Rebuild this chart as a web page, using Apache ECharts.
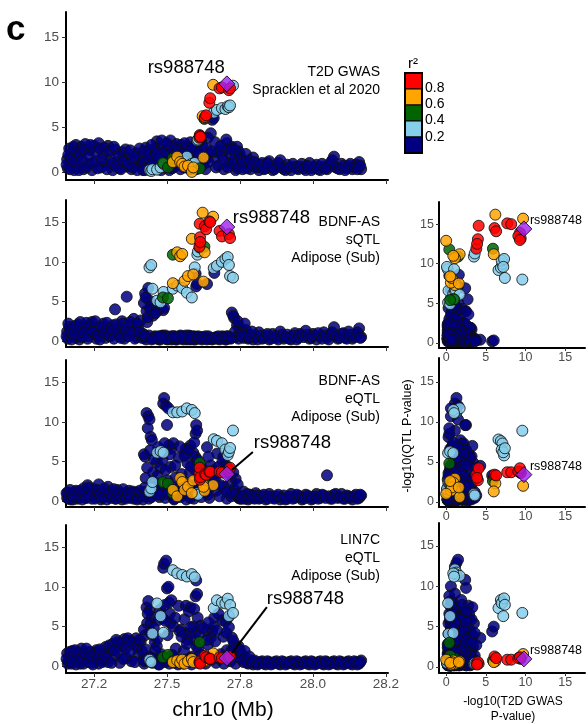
<!DOCTYPE html>
<html>
<head>
<meta charset="utf-8">
<script src="https://cdn.jsdelivr.net/npm/echarts@6/dist/echarts.min.js"></script>
<style>
  html, body { margin: 0; padding: 0; background: #fff; }
  #chart { width: 588px; height: 724px; }
</style>
</head>
<body>
<div id="chart"></div>
<script>
// one row per SNP: [position (Mb), r2 class, T2D GWAS, BDNF-AS sQTL, BDNF-AS eQTL, LIN7C eQTL]
// r2 class: 0 <0.2, 1 0.2-0.4, 2 0.4-0.6, 3 0.6-0.8, 4 >0.8 (all values are -log10 P)
const leftFlank = [
  [27.158, 0, 1.4, 1.2, 0.4, 1.6], [27.160, 0, 0.4, 0.3, 1.1, 0.3], [27.165, 0, 2.6, 1.8, 0.6, 1.1],
  [27.170, 0, 0.9, 0.6, 0.2, 0.5], [27.176, 0, 2.2, 1.5, 0.8, 1.9], [27.182, 0, 0.2, 1.0, 0.5, 0.9],
  [27.188, 0, 3.0, 0.4, 1.3, 0.2], [27.195, 0, 1.6, 2.1, 0.3, 1.4], [27.200, 0, 0.5, 0.2, 1.0, 0.6],
  [27.207, 0, 2.8, 1.3, 0.6, 2.2], [27.214, 0, 0.3, 0.7, 1.6, 0.3], [27.220, 0, 3.1, 1.9, 0.4, 1.2],
  [27.228, 0, 0.9, 0.3, 2.0, 0.7], [27.235, 0, 2.4, 1.6, 0.9, 1.8], [27.243, 0, 0.2, 2.4, 0.3, 0.4],
  [27.250, 0, 2.9, 0.9, 1.5, 1.1], [27.258, 0, 1.2, 0.3, 0.6, 2.0], [27.266, 0, 3.2, 1.7, 2.1, 0.3],
  [27.274, 0, 0.5, 1.1, 0.2, 1.5], [27.282, 0, 2.0, 2.2, 1.2, 0.8], [27.290, 0, 0.8, 0.4, 0.7, 2.4],
  [27.298, 0, 2.9, 1.4, 1.8, 0.5], [27.306, 0, 1.5, 0.6, 0.4, 1.9], [27.314, 0, 0.2, 2.0, 1.1, 2.8],
  [27.322, 0, 2.5, 4.0, 0.3, 1.3], [27.330, 0, 1.1, 0.8, 1.4, 3.0], [27.338, 0, 0.4, 1.6, 0.6, 0.4],
  [27.346, 0, 2.2, 2.5, 0.2, 2.5], [27.354, 0, 1.7, 0.3, 1.0, 3.4], [27.362, 0, 0.6, 5.6, 0.5, 1.0],
  [27.370, 0, 1.9, 1.2, 1.3, 3.2], [27.378, 0, 0.3, 2.0, 0.7, 0.6], [27.386, 0, 1.3, 2.8, 0.3, 2.7],
  [27.394, 0, 2.1, 0.5, 1.1, 3.5], [27.402, 0, 0.7, 1.8, 0.4, 1.5], [27.410, 0, 1.6, 2.6, 0.9, 3.1],
  [27.418, 0, 0.2, 0.9, 0.2, 0.8],
  [27.156, 0, 0.8, 0.6, 1.0, 0.9], [27.162, 0, 1.9, 2.2, 0.3, 0.6], [27.168, 0, 0.3, 1.4, 1.4, 1.8],
  [27.173, 0, 1.5, 0.2, 0.7, 0.3], [27.179, 0, 2.8, 0.9, 0.2, 1.2], [27.185, 0, 1.1, 1.9, 1.1, 2.0],
  [27.191, 0, 2.3, 0.8, 0.5, 0.7], [27.198, 0, 0.2, 1.6, 0.8, 1.7], [27.203, 0, 2.0, 2.4, 1.3, 0.3],
  [27.210, 0, 1.3, 0.5, 0.2, 1.0], [27.217, 0, 2.5, 1.1, 1.0, 1.6], [27.224, 0, 0.5, 2.3, 0.4, 2.2],
  [27.231, 0, 1.8, 0.6, 1.7, 0.5], [27.238, 0, 3.0, 1.9, 0.6, 1.3], [27.246, 0, 1.0, 1.2, 1.1, 0.2],
  [27.254, 0, 2.2, 2.5, 0.3, 1.7], [27.262, 0, 0.4, 0.7, 1.4, 0.9], [27.270, 0, 2.6, 0.2, 0.8, 2.1],
  [27.278, 0, 1.4, 1.8, 0.4, 0.5], [27.286, 0, 2.7, 1.0, 1.6, 1.4], [27.294, 0, 0.3, 2.3, 0.2, 1.0],
  [27.302, 0, 2.3, 0.7, 1.1, 2.6], [27.310, 0, 1.0, 1.5, 0.6, 0.4], [27.318, 0, 2.8, 0.3, 1.5, 2.0],
  [27.326, 0, 0.6, 2.1, 0.3, 3.3], [27.334, 0, 1.8, 1.0, 1.0, 1.7], [27.342, 0, 0.3, 0.4, 0.5, 2.9],
  [27.350, 0, 1.2, 2.2, 1.5, 0.9], [27.358, 0, 2.5, 1.3, 0.3, 2.2], [27.366, 0, 0.9, 0.6, 0.9, 3.5],
  [27.374, 0, 2.4, 2.4, 0.4, 1.8], [27.382, 0, 0.5, 1.1, 1.2, 3.0], [27.390, 0, 1.7, 0.3, 0.6, 0.5],
  [27.398, 0, 0.2, 2.2, 0.2, 2.4], [27.406, 0, 2.6, 1.2, 1.3, 3.3], [27.414, 0, 1.0, 0.4, 0.7, 1.9]
];

const coreRegion = [
  [27.425, 0, 0.9, 6.0, 5.6, 3.9], [27.430, 0, 1.2, 3.8, 11.1, 7.4], [27.432, 0, 2.2, 2.4, 4.2, 5.4],
  [27.436, 0, 0.6, 6.7, 10.7, 8.2], [27.440, 0, 1.5, 5.1, 10.3, 7.0], [27.444, 0, 0.3, 4.4, 8.1, 5.4],
  [27.448, 0, 1.8, 3.7, 7.7, 6.2], [27.452, 0, 1.0, 3.2, 3.6, 3.9], [27.458, 0, 2.6, 0.6, 2.3, 3.0],
  [27.465, 0, 3.4, 0.3, 4.9, 2.5], [27.470, 0, 0.7, 3.9, 6.8, 5.8], [27.478, 0, 2.0, 4.3, 4.2, 6.4],
  [27.485, 0, 2.9, 0.7, 5.2, 6.0], [27.487, 0, 1.1, 3.9, 12.3, 12.4], [27.490, 0, 1.3, 4.2, 13.0, 12.9],
  [27.497, 0, 1.5, 0.5, 12.0, 13.3], [27.500, 0, 2.5, 0.3, 9.6, 9.8], [27.505, 0, 0.6, 0.4, 11.7, 10.0],
  [27.507, 0, 0.8, 0.3, 7.0, 8.0], [27.512, 0, 3.5, 0.5, 4.3, 5.4], [27.515, 0, 1.9, 0.6, 6.6, 8.3],
  [27.530, 0, 1.0, 0.2, 3.0, 2.2], [27.540, 0, 2.8, 0.4, 5.5, 7.6], [27.548, 0, 3.0, 0.5, 2.0, 4.6],
  [27.562, 0, 2.1, 0.3, 6.0, 4.1], [27.565, 0, 0.5, 0.7, 6.6, 7.6], [27.570, 0, 1.6, 0.4, 4.8, 3.3],
  [27.578, 0, 0.3, 0.6, 3.6, 4.1], [27.580, 0, 3.3, 0.2, 7.0, 7.4], [27.590, 0, 1.4, 0.5, 6.1, 5.0],
  [27.595, 0, 2.7, 0.4, 4.0, 3.2], [27.598, 0, 0.4, 8.5, 8.5, 8.8], [27.600, 0, 2.4, 6.9, 9.6, 10.8],
  [27.603, 0, 1.1, 7.2, 8.9, 9.1],
  [27.421, 0, 1.1, 4.8, 5.9, 4.6], [27.427, 0, 2.7, 5.5, 2.9, 2.1], [27.434, 0, 0.4, 3.0, 9.2, 6.6],
  [27.442, 0, 2.4, 4.0, 6.4, 4.2], [27.455, 0, 1.3, 0.4, 5.3, 4.8], [27.460, 0, 0.6, 3.5, 1.8, 2.0],
  [27.468, 0, 2.2, 0.5, 3.2, 3.5], [27.476, 0, 1.4, 0.2, 5.9, 7.1], [27.480, 0, 0.2, 0.6, 1.2, 1.5],
  [27.492, 0, 2.0, 0.4, 7.3, 7.7], [27.495, 0, 0.5, 0.7, 3.9, 5.7], [27.502, 0, 1.8, 0.2, 2.6, 3.9],
  [27.510, 0, 2.9, 0.5, 5.9, 6.6], [27.518, 0, 0.4, 0.3, 1.8, 1.4], [27.522, 0, 2.2, 0.6, 7.3, 5.0],
  [27.528, 0, 1.6, 0.4, 4.5, 6.1], [27.533, 0, 3.1, 0.2, 1.5, 0.8], [27.543, 0, 0.8, 0.6, 6.9, 4.4],
  [27.550, 0, 2.3, 0.3, 3.4, 3.7], [27.558, 0, 0.5, 0.5, 1.2, 1.9], [27.560, 0, 3.2, 0.4, 5.7, 5.9],
  [27.568, 0, 1.2, 0.2, 2.3, 2.8], [27.575, 0, 2.5, 0.7, 6.5, 6.9], [27.582, 0, 0.6, 0.4, 4.4, 4.9],
  [27.587, 0, 2.0, 0.3, 1.6, 1.2], [27.593, 0, 0.9, 0.6, 7.4, 7.2], [27.597, 0, 3.0, 0.2, 5.6, 4.2],
  [27.601, 0, 0.3, 0.5, 2.2, 2.5],
  [27.422, 0, 2.3, 0.4, 0.6, 0.3], [27.428, 0, 0.5, 0.2, 1.2, 0.8], [27.438, 0, 1.9, 0.7, 0.3, 1.2],
  [27.450, 0, 0.8, 0.3, 0.9, 0.4], [27.462, 0, 2.1, 0.5, 1.4, 0.7], [27.474, 0, 0.4, 0.2, 0.5, 0.2],
  [27.482, 0, 3.5, 0.6, 1.0, 1.0], [27.494, 0, 2.4, 0.3, 0.4, 0.5], [27.508, 0, 0.2, 0.5, 1.2, 0.3],
  [27.516, 0, 2.7, 0.2, 0.7, 0.9], [27.526, 0, 0.6, 0.6, 0.3, 0.4], [27.538, 0, 2.5, 0.3, 1.1, 0.2],
  [27.546, 0, 0.3, 0.7, 0.5, 0.7], [27.556, 0, 1.8, 0.2, 0.9, 0.3], [27.566, 0, 2.8, 0.5, 0.2, 0.8],
  [27.574, 0, 0.9, 0.3, 1.3, 0.5], [27.584, 0, 2.6, 0.6, 0.6, 0.2], [27.592, 0, 0.4, 0.2, 0.3, 0.9],
  [27.424, 0, 0.2, 0.7, 1.7, 0.6], [27.447, 0, 3.0, 0.2, 0.5, 1.1], [27.471, 0, 1.7, 0.6, 0.8, 0.2],
  [27.499, 0, 3.2, 0.3, 0.9, 0.7], [27.524, 0, 1.4, 0.5, 0.2, 1.2], [27.553, 0, 2.0, 0.6, 1.6, 0.4],
  [27.579, 0, 1.1, 0.3, 0.4, 1.0],
  [27.440, 1, 0.2, 9.3, 1.2, 0.8], [27.446, 1, 0.1, 9.6, 1.6, 0.5], [27.450, 1, 0.3, 6.6, 2.4, 4.1],
  [27.466, 1, 0.25, 5.1, 6.1, 7.9], [27.478, 1, 0.5, 4.9, 6.3, 6.3], [27.488, 1, 0.9, 6.2, 6.1, 4.2],
  [27.520, 1, 1.1, 6.6, 11.2, 12.1], [27.535, 1, 1.3, 7.0, 11.2, 11.7], [27.552, 1, 1.2, 6.7, 11.3, 11.5],
  [27.568, 1, 1.7, 6.1, 11.7, 11.3], [27.585, 1, 0.9, 5.5, 11.5, 11.6], [27.595, 1, 1.0, 9.3, 11.1, 11.2],
  [27.486, 2, 1.0, 5.5, 2.4, 1.1], [27.503, 2, 0.5, 5.4, 2.2, 1.4], [27.520, 2, 1.5, 10.9, 1.0, 0.6],
  [27.612, 2, 0.4, 11.8, 4.8, 3.0],
  [27.520, 3, 1.1, 7.3, 1.4, 0.5], [27.535, 3, 1.7, 11.2, 0.6, 0.7], [27.545, 3, 1.1, 10.7, 2.9, 0.4],
  [27.552, 3, 0.9, 11.0, 2.4, 0.8], [27.560, 3, 0.6, 7.6, 1.4, 0.3], [27.572, 3, 0.7, 8.2, 1.8, 0.6],
  [27.585, 3, 0.0, 12.9, 1.0, 0.9], [27.590, 3, 0.5, 8.4, 2.6, 0.5]
];

const peakRegion = [
  [27.611, 4, 3.8, 11.9, 3.4, 0.5], [27.612, 4, 4.1, 14.8, 4.2, 0.4], [27.613, 4, 4.0, 13.1, 2.7, 0.6],
  [27.614, 4, 3.9, 12.5, 3.0, 0.3], [27.630, 4, 6.1, 14.5, 3.4, 1.3], [27.634, 4, 6.3, 14.1, 3.3, 1.1],
  [27.645, 4, 7.7, 15.1, 3.7, 0.9], [27.648, 4, 8.2, 15.0, 3.7, 0.9], [27.680, 4, 9.3, 13.9, 3.7, 1.1],
  [27.688, 4, 9.4, 13.2, 3.6, 1.0], [27.712, 4, 9.1, 13.5, 3.8, 1.1], [27.716, 4, 9.3, 13.0, 4.2, 1.2],
  [27.658, 3, 9.7, 15.7, 2.0, 1.6], [27.622, 3, 6.2, 16.2, 2.3, 0.7], [27.629, 3, 6.0, 11.2, 1.3, 0.6],
  [27.625, 3, 1.6, 7.5, 1.8, 0.6], [27.628, 2, 5.9, 11.9, 2.6, 0.8],
  [27.660, 1, 6.6, 9.2, 7.8, 7.3], [27.671, 1, 6.9, 9.5, 7.6, 8.3], [27.688, 1, 7.1, 10.0, 7.3, 8.0],
  [27.700, 1, 7.0, 10.4, 6.5, 7.9], [27.708, 1, 7.3, 10.6, 5.8, 8.5], [27.712, 1, 7.2, 9.6, 6.2, 6.3],
  [27.716, 1, 7.4, 8.2, 6.7, 7.7], [27.726, 1, 9.6, 8.0, 8.9, 6.7], [27.604, 1, 3.5, 10.9, 1.0, 0.4],
  [27.606, 1, 3.6, 11.3, 0.8, 0.5],
  [27.655, 0, 5.8, 0.2, 3.3, 4.4], [27.660, 0, 6.0, 0.3, 3.0, 5.0], [27.605, 0, 1.2, 0.3, 5.2, 6.1],
  [27.615, 0, 0.6, 0.5, 4.6, 5.1], [27.637, 0, 1.5, 7.2, 6.8, 4.5], [27.650, 0, 4.3, 0.4, 4.5, 3.6],
  [27.662, 0, 1.6, 8.6, 3.9, 6.1], [27.672, 0, 2.2, 0.3, 6.0, 4.5], [27.690, 0, 1.8, 0.6, 5.0, 5.8],
  [27.700, 0, 2.5, 0.2, 4.6, 5.6], [27.712, 0, 0.9, 0.4, 3.4, 4.9], [27.722, 0, 2.8, 3.6, 2.4, 3.6],
  [27.730, 0, 1.4, 2.9, 1.5, 2.6], [27.740, 0, 2.8, 2.0, 0.9, 2.3], [27.748, 0, 0.6, 1.8, 0.5, 1.6],
  [27.620, 0, 2.9, 0.2, 2.1, 0.6], [27.632, 0, 0.3, 0.6, 1.1, 0.3], [27.645, 0, 2.0, 0.3, 0.4, 1.1],
  [27.668, 0, 0.5, 0.5, 1.3, 0.4], [27.680, 0, 2.4, 0.2, 0.6, 0.9], [27.695, 0, 0.3, 0.4, 1.8, 0.3],
  [27.705, 0, 3.2, 0.6, 0.3, 2.0], [27.718, 0, 1.9, 0.3, 1.0, 0.6], [27.735, 0, 0.2, 0.5, 2.8, 0.3],
  [27.745, 0, 2.3, 0.3, 0.4, 2.5], [27.610, 0, 3.4, 0.4, 3.0, 3.9], [27.640, 0, 3.8, 0.3, 0.8, 2.7],
  [27.607, 0, 2.1, 0.6, 1.4, 2.2], [27.617, 0, 3.6, 0.3, 0.5, 1.4], [27.624, 0, 0.8, 0.5, 3.9, 4.8],
  [27.636, 0, 2.6, 0.2, 2.6, 3.3], [27.642, 0, 1.1, 0.6, 5.6, 5.5], [27.652, 0, 2.3, 0.3, 1.9, 0.8],
  [27.665, 0, 3.3, 0.4, 2.7, 3.1], [27.676, 0, 0.7, 0.6, 4.3, 6.6], [27.684, 0, 2.9, 0.3, 2.0, 1.5],
  [27.693, 0, 1.3, 0.5, 5.6, 3.7], [27.703, 0, 3.6, 0.2, 1.2, 4.2], [27.709, 0, 0.5, 0.6, 4.2, 6.1],
  [27.720, 0, 2.5, 0.4, 0.6, 1.9], [27.727, 0, 1.0, 3.2, 3.6, 3.2], [27.733, 0, 2.4, 1.2, 0.9, 2.0],
  [27.742, 0, 0.4, 2.5, 2.1, 1.1], [27.750, 0, 1.9, 1.2, 0.3, 2.0]
];

const rightFlank = [
  [27.756, 0, 1.4, 1.0, 0.3, 1.5], [27.762, 0, 0.5, 0.4, 1.2, 0.5], [27.770, 0, 2.0, 1.4, 0.6, 1.0],
  [27.778, 0, 0.9, 0.3, 0.2, 0.3], [27.786, 0, 0.3, 0.8, 0.8, 0.7], [27.795, 0, 1.6, 0.2, 0.4, 0.2],
  [27.804, 0, 0.6, 0.6, 1.0, 0.5], [27.815, 0, 0.2, 1.1, 0.3, 0.3], [27.826, 0, 1.0, 0.3, 0.6, 0.6],
  [27.838, 0, 0.4, 0.7, 0.2, 0.2], [27.850, 0, 1.2, 0.2, 0.9, 0.5], [27.862, 0, 0.2, 0.9, 0.4, 0.3],
  [27.875, 0, 0.7, 0.4, 0.6, 0.6], [27.888, 0, 1.3, 1.2, 0.2, 0.2], [27.900, 0, 0.3, 0.3, 0.7, 0.5],
  [27.912, 0, 0.8, 0.8, 0.3, 0.3], [27.925, 0, 0.2, 0.2, 0.9, 0.6], [27.938, 0, 0.6, 1.0, 0.4, 0.2],
  [27.950, 0, 0.3, 0.4, 0.7, 0.5], [27.962, 0, 0.9, 0.7, 0.2, 0.3], [27.975, 0, 0.2, 1.3, 0.8, 0.6],
  [27.988, 0, 1.0, 0.3, 0.5, 0.2], [28.000, 0, 0.4, 0.9, 0.3, 0.5], [28.012, 0, 0.8, 0.2, 0.9, 0.3],
  [28.025, 0, 0.2, 0.6, 0.4, 0.6], [28.037, 0, 0.6, 1.1, 0.7, 0.2], [28.048, 0, 0.3, 0.4, 3.25, 0.5],
  [28.060, 0, 1.0, 0.8, 0.3, 0.3], [28.072, 0, 1.7, 1.75, 0.8, 0.6], [28.085, 0, 0.4, 0.3, 0.4, 0.2],
  [28.098, 0, 0.9, 0.9, 0.9, 0.5], [28.110, 0, 0.2, 0.4, 0.3, 0.3], [28.122, 0, 0.7, 1.2, 0.6, 0.6],
  [28.135, 0, 0.3, 0.3, 0.2, 0.2], [28.147, 0, 0.8, 0.8, 0.8, 0.5], [28.158, 0, 1.1, 1.6, 0.4, 0.3],
  [28.165, 0, 0.3, 0.5, 0.7, 0.7],
  [27.759, 0, 0.3, 0.6, 0.6, 0.8], [27.766, 0, 1.1, 2.2, 0.3, 1.9], [27.774, 0, 0.4, 0.8, 0.9, 0.4],
  [27.782, 0, 1.3, 0.4, 0.4, 1.2], [27.791, 0, 0.7, 1.2, 0.7, 0.4], [27.800, 0, 1.1, 0.5, 0.3, 0.7],
  [27.810, 0, 0.5, 0.2, 0.7, 0.2], [27.820, 0, 0.8, 0.7, 0.4, 0.5], [27.832, 0, 0.3, 0.4, 0.8, 0.3],
  [27.844, 0, 1.0, 0.9, 0.3, 0.6], [27.856, 0, 0.6, 0.3, 0.6, 0.2], [27.868, 0, 0.3, 0.6, 0.3, 0.5],
  [27.881, 0, 1.0, 0.2, 0.8, 0.3], [27.894, 0, 0.5, 0.8, 0.4, 0.6], [27.906, 0, 0.2, 0.5, 0.2, 0.2],
  [27.918, 0, 0.5, 0.3, 0.6, 0.5], [27.931, 0, 0.9, 0.7, 0.3, 0.3], [27.944, 0, 0.4, 0.2, 0.8, 0.6],
  [27.956, 0, 0.6, 0.9, 0.5, 0.2], [27.969, 0, 0.4, 0.5, 0.3, 0.5], [27.981, 0, 0.7, 0.8, 0.7, 0.3],
  [27.994, 0, 0.2, 0.4, 0.2, 0.6], [28.006, 0, 0.6, 0.7, 0.6, 0.2], [28.018, 0, 0.3, 1.0, 0.3, 0.5],
  [28.031, 0, 0.9, 0.3, 0.8, 0.3], [28.043, 0, 0.4, 0.7, 0.4, 0.6], [28.054, 0, 0.6, 0.2, 0.6, 0.2],
  [28.066, 0, 1.3, 1.1, 0.3, 0.5], [28.078, 0, 0.5, 0.6, 0.9, 0.3], [28.091, 0, 0.3, 0.4, 0.5, 0.6],
  [28.104, 0, 0.7, 1.0, 0.3, 0.2], [28.116, 0, 0.4, 0.3, 0.7, 0.5], [28.128, 0, 0.9, 0.8, 0.4, 0.3],
  [28.141, 0, 0.5, 0.5, 0.6, 0.6], [28.152, 0, 0.3, 1.1, 0.3, 0.2], [28.162, 0, 0.7, 0.4, 0.8, 0.5]
];

// lead SNP: [position, GWAS, sQTL, BDNF-AS eQTL, LIN7C eQTL]
const leadName = 'rs988748';
const leadSnp = [27.705, 9.8, 14.4, 3.4, 1.0];

const tickPos = [27.25, 27.5, 27.75, 28.0, 28.25];
const tickLabels = ['27.2', '27.5', '27.8', '28.0', '28.2'];
const pTicks = [0, 5, 10, 15];
const ldColors = ['#000080', '#87CEEB', '#006400', '#FFA500', '#FF0000'];
const ldLabels = ['0.8', '0.6', '0.4', '0.2'];
const panelNotes = [
  ['T2D GWAS', 'Spracklen et al 2020'],
  ['BDNF-AS', 'sQTL', 'Adipose (Sub)'],
  ['BDNF-AS', 'eQTL', 'Adipose (Sub)'],
  ['LIN7C', 'eQTL', 'Adipose (Sub)']
];

const snps = [...leftFlank, ...coreRegion, ...peakRegion, ...rightFlank];

const FONT = "'Liberation Sans', Arial, Helvetica, sans-serif";
const chart = echarts.init(document.getElementById('chart'), null, { renderer: 'canvas' });

// layout of the panels (pixels)
const leftGrids = [
  { top: 12, height: 168, yMin: -0.9 },
  { top: 200, height: 147, yMin: -0.75 },
  { top: 360, height: 147, yMin: -0.75 },
  { top: 525, height: 148, yMin: -0.88 }
];
const rightGrids = [
  { top: 202, height: 146, yMin: -0.65, yMax: 17.8 },
  { top: 358, height: 149, yMin: -0.65, yMax: 18.0 },
  { top: 523, height: 150, yMin: -0.75, yMax: 17.85 }
];

const grid = [], xAxis = [], yAxis = [], series = [];
const lineStyle = { color: '#000', width: 2 };
const tickStyle = { color: '#333', width: 1 };

leftGrids.forEach((g, i) => {
  grid.push({ left: 66, top: g.top, width: 322, height: g.height });
  xAxis.push({
    type: 'value', gridIndex: i, min: 27.154, max: 28.257,
    axisLine: { show: true, onZero: false, lineStyle },
    axisTick: { show: true, customValues: tickPos, length: 4, lineStyle: tickStyle },
    axisLabel: {
      show: i === 3, customValues: tickPos, margin: 4, color: '#4d4d4d',
      fontSize: 13.5, fontFamily: FONT,
      formatter: v => tickLabels[tickPos.findIndex(t => Math.abs(t - v) < 1e-6)]
    },
    splitLine: { show: false }
  });
  yAxis.push({
    type: 'value', gridIndex: i, min: g.yMin, max: 17.8,
    axisLine: { show: true, onZero: false, lineStyle },
    axisTick: { show: true, customValues: pTicks, length: 4, lineStyle: tickStyle },
    axisLabel: { customValues: pTicks, margin: 7, color: '#4d4d4d', fontSize: 13.5, fontFamily: FONT },
    splitLine: { show: false }
  });
});

rightGrids.forEach((g, r) => {
  const i = 4 + r;
  grid.push({ left: 439, top: g.top, width: 146, height: g.height });
  xAxis.push({
    type: 'value', gridIndex: i, min: -0.9, max: 17.5,
    axisLine: { show: true, onZero: false, lineStyle },
    axisTick: { show: true, customValues: pTicks, length: 3, lineStyle: tickStyle },
    axisLabel: { customValues: pTicks, margin: 3, color: '#4d4d4d', fontSize: 12.5, fontFamily: FONT },
    splitLine: { show: false }
  });
  yAxis.push({
    type: 'value', gridIndex: i, min: g.yMin, max: g.yMax,
    axisLine: { show: true, onZero: false, lineStyle },
    axisTick: { show: true, customValues: pTicks, length: 3, lineStyle: tickStyle },
    axisLabel: { customValues: pTicks, margin: 5, color: '#4d4d4d', fontSize: 12.5, fontFamily: FONT },
    splitLine: { show: false }
  });
});

function pointSeries(axis, data, color) {
  return {
    type: 'scatter', xAxisIndex: axis, yAxisIndex: axis, silent: true,
    symbolSize: 11,
    itemStyle: { color: color, borderColor: '#111', borderWidth: 1, opacity: 0.85 },
    data: data
  };
}
function leadSeries(axis, point) {
  return {
    type: 'scatter', xAxisIndex: axis, yAxisIndex: axis, silent: true,
    symbol: 'diamond', symbolSize: 16, z: 5,
    itemStyle: { color: '#A020F0', borderColor: '#000', borderWidth: 1 },
    data: [point]
  };
}

// regional plots: position vs -log10 P
for (let p = 0; p < 4; p++) {
  ldColors.forEach((c, cls) => {
    series.push(pointSeries(p, snps.filter(s => s[1] === cls).map(s => [s[0], s[2 + p]]), c));
  });
  series.push(leadSeries(p, [leadSnp[0], leadSnp[1 + p]]));
}
// QTL vs GWAS scatter plots
for (let r = 0; r < 3; r++) {
  ldColors.forEach((c, cls) => {
    series.push(pointSeries(4 + r, snps.filter(s => s[1] === cls).map(s => [s[2], s[3 + r]]), c));
  });
  series.push(leadSeries(4 + r, [leadSnp[1], leadSnp[2 + r]]));
}

chart.setOption({
  animation: false,
  backgroundColor: '#fff',
  grid, xAxis, yAxis, series
});

// annotations
const g = [];
function txt(x, y, text, size, align, extra) {
  g.push(Object.assign({
    type: 'text', x: x, y: y, z: 100,
    style: { text: text, fill: '#000', fontSize: size, fontFamily: FONT, align: align, verticalAlign: 'middle' }
  }, extra || {}));
}

txt(6, 30, 'c', 35, 'left');
g[g.length - 1].style.fontWeight = 'bold';

const noteTops = [72, 222, 381, 540];
panelNotes.forEach((lines, p) => {
  lines.forEach((line, k) => txt(380, noteTops[p] + k * 18, line, 14, 'right'));
});

// lead SNP labels, placed relative to the diamond
const lp = [];
for (let p = 0; p < 4; p++) lp.push(chart.convertToPixel({ gridIndex: p }, [leadSnp[0], leadSnp[1 + p]]));
for (let r = 0; r < 3; r++) lp.push(chart.convertToPixel({ gridIndex: 4 + r }, [leadSnp[1], leadSnp[2 + r]]));

txt(lp[0][0] - 2, lp[0][1] - 16, leadName, 18.5, 'right');
txt(lp[1][0] + 6, lp[1][1] - 9, leadName, 18.5, 'left');
txt(lp[2][0] + 27, lp[2][1] - 31, leadName, 18.5, 'left');
g.push({ type: 'line', z: 100, shape: { x1: lp[2][0] + 5, y1: lp[2][1] - 4, x2: lp[2][0] + 26, y2: lp[2][1] - 22 }, style: { stroke: '#000', lineWidth: 2 } });
txt(lp[3][0] + 40, lp[3][1] - 59, leadName, 18.5, 'left');
g.push({ type: 'line', z: 100, shape: { x1: lp[3][0] + 5, y1: lp[3][1] - 5, x2: lp[3][0] + 40, y2: lp[3][1] - 51 }, style: { stroke: '#000', lineWidth: 2 } });
for (let r = 0; r < 3; r++) txt(lp[4 + r][0] + 6, lp[4 + r][1] - 8, leadName, 12.5, 'left');

// r2 colour key
txt(413, 64, 'r²', 15, 'center');
for (let k = 0; k < 5; k++) {
  g.push({
    type: 'rect', z: 100,
    shape: { x: 405, y: 73 + k * 16, width: 17, height: 16 },
    style: { fill: ldColors[4 - k], stroke: '#000', lineWidth: 1 }
  });
}
g.push({ type: 'rect', z: 101, shape: { x: 405, y: 73, width: 17, height: 80 }, style: { fill: 'none', stroke: '#000', lineWidth: 2 } });
ldLabels.forEach((l, k) => txt(425, 88 + k * 16.3, l, 14, 'left'));

// axis titles
txt(223, 710, 'chr10 (Mb)', 21, 'center');
txt(513, 702, '-log10(T2D GWAS', 12, 'center');
txt(513, 717, 'P-value)', 12, 'center');
txt(408, 436, '-log10(QTL P-value)', 12.5, 'center', { rotation: Math.PI / 2 });

chart.setOption({ graphic: g });
</script>
</body>
</html>
